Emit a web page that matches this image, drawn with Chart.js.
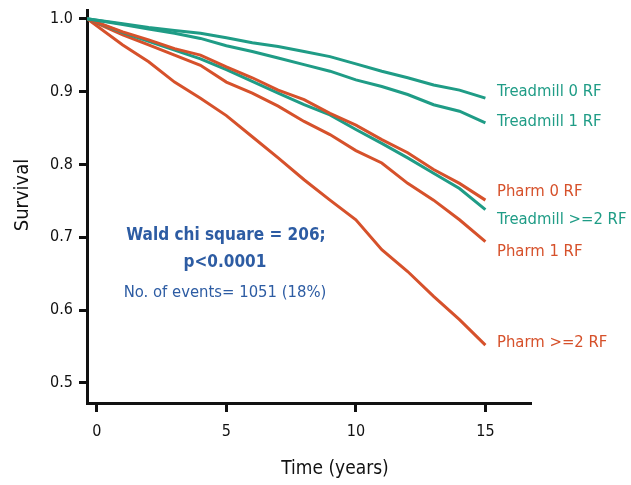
<!DOCTYPE html>
<html lang="en">
<head>
    <meta charset="UTF-8">
    <title>Survival by stress test and risk factors</title>
    <style>
        body {
            margin: 0;
            background-color: #fff;
        }
    </style>
    <script src="https://cdn.jsdelivr.net/npm/chart.js"></script>
</head>
<body>
    <canvas id="myChart" width="631" height="485"></canvas>
    <script>
        // time in years (first point sits on the y axis line)
        const years = [-0.38, 1, 2, 3, 4, 5, 6, 7, 8, 9, 10, 11, 12, 13, 14, 15];

        const treadmill0 = [1.000, 0.993, 0.988, 0.984, 0.980, 0.974, 0.967, 0.962, 0.955, 0.948, 0.938, 0.928, 0.919, 0.909, 0.902, 0.891];
        const treadmill1 = [1.000, 0.992, 0.986, 0.980, 0.973, 0.963, 0.955, 0.946, 0.937, 0.928, 0.916, 0.907, 0.896, 0.882, 0.873, 0.857];
        const treadmill2 = [1.000, 0.981, 0.969, 0.957, 0.945, 0.930, 0.914, 0.898, 0.882, 0.868, 0.848, 0.829, 0.809, 0.788, 0.767, 0.738];
        const pharm0 = [1.000, 0.982, 0.971, 0.959, 0.950, 0.934, 0.919, 0.902, 0.889, 0.870, 0.854, 0.834, 0.816, 0.793, 0.774, 0.751];
        const pharm1 = [1.000, 0.978, 0.964, 0.950, 0.936, 0.913, 0.898, 0.880, 0.859, 0.841, 0.819, 0.802, 0.774, 0.751, 0.724, 0.694];
        const pharm2 = [1.000, 0.964, 0.941, 0.913, 0.891, 0.867, 0.838, 0.809, 0.779, 0.751, 0.724, 0.683, 0.653, 0.619, 0.587, 0.552];

        const xTicks = [0, 5, 10, 15];
        const yTicks = [0.5, 0.6, 0.7, 0.8, 0.9, 1.0];

        const TEAL = '#1f9c86';
        const RED = '#d6512b';
        const BLUE = '#2d5ca3';
        const FONT = '"DejaVu Sans Condensed", "Liberation Sans Narrow", sans-serif';

        function series(label, values, color) {
            return {
                label: label,
                data: years.map((t, i) => ({ x: t, y: values[i] })),
                borderColor: color,
                borderWidth: 3,
                pointRadius: 0,
                tension: 0,
                fill: false
            };
        }

        // text drawn on top: curve labels, stats and axis titles
        const textPlugin = {
            id: 'texts',
            afterDraw(chart) {
                const ctx = chart.ctx;
                ctx.save();
                ctx.textBaseline = 'middle';

                ctx.font = '16.5px ' + FONT;
                ctx.textAlign = 'left';
                const labels = [
                    ['Treadmill 0 RF', 92, TEAL],
                    ['Treadmill 1 RF', 122, TEAL],
                    ['Pharm 0 RF', 192, RED],
                    ['Treadmill >=2 RF', 220, TEAL],
                    ['Pharm 1 RF', 252, RED],
                    ['Pharm >=2 RF', 343, RED]
                ];
                labels.forEach(l => {
                    ctx.fillStyle = l[2];
                    ctx.fillText(l[0], 497, l[1]);
                });

                ctx.textAlign = 'center';
                ctx.fillStyle = BLUE;
                ctx.font = 'bold 17px ' + FONT;
                ctx.fillText('Wald chi square = 206;', 226, 236);
                ctx.fillText('p<0.0001', 225, 263);
                ctx.font = '16.5px ' + FONT;
                ctx.fillText('No. of events= 1051 (18%)', 225, 293);

                ctx.fillStyle = '#111';
                ctx.font = '19px ' + FONT;
                ctx.fillText('Time (years)', 335, 469);

                ctx.translate(23, 195);
                ctx.rotate(-Math.PI / 2);
                ctx.font = '20px ' + FONT;
                ctx.fillText('Survival', 0, 0);
                ctx.restore();
            }
        };

        const ctx = document.getElementById('myChart').getContext('2d');
        const myChart = new Chart(ctx, {
            type: 'line',
            data: {
                datasets: [
                    series('Treadmill 0 RF', treadmill0, TEAL),
                    series('Treadmill 1 RF', treadmill1, TEAL),
                    series('Pharm 0 RF', pharm0, RED),
                    series('Treadmill >=2 RF', treadmill2, TEAL),
                    series('Pharm 1 RF', pharm1, RED),
                    series('Pharm >=2 RF', pharm2, RED)
                ]
            },
            options: {
                responsive: false,
                animation: false,
                layout: {
                    padding: { left: 0, right: 100, top: 10, bottom: 0 }
                },
                plugins: {
                    legend: { display: false },
                    tooltip: { enabled: false }
                },
                scales: {
                    x: {
                        type: 'linear',
                        min: -0.38,
                        max: 16.76,
                        afterBuildTicks: axis => { axis.ticks = xTicks.map(v => ({ value: v })); },
                        afterFit: axis => {
                            axis.height = 82;
                            axis.paddingLeft = 0;
                            axis.paddingRight = 0;
                        },
                        border: { color: '#111', width: 3 },
                        grid: {
                            drawOnChartArea: false,
                            drawTicks: true,
                            tickLength: 9,
                            tickWidth: 3,
                            tickColor: '#111'
                        },
                        ticks: {
                            color: '#111',
                            padding: 10,
                            font: { family: FONT, size: 16 },
                            callback: v => String(v)
                        }
                    },
                    y: {
                        min: 0.4725,
                        max: 1.012,
                        afterBuildTicks: axis => { axis.ticks = yTicks.map(v => ({ value: v })); },
                        afterFit: axis => {
                            axis.width = 87;
                            axis.paddingTop = 0;
                            axis.paddingBottom = 0;
                        },
                        border: { color: '#111', width: 3 },
                        grid: {
                            drawOnChartArea: false,
                            drawTicks: true,
                            tickLength: 8,
                            tickWidth: 3,
                            tickColor: '#111'
                        },
                        ticks: {
                            color: '#111',
                            padding: 6,
                            font: { family: FONT, size: 16 },
                            callback: v => v.toFixed(1)
                        }
                    }
                }
            },
            plugins: [textPlugin]
        });
    </script>
</body>
</html>
